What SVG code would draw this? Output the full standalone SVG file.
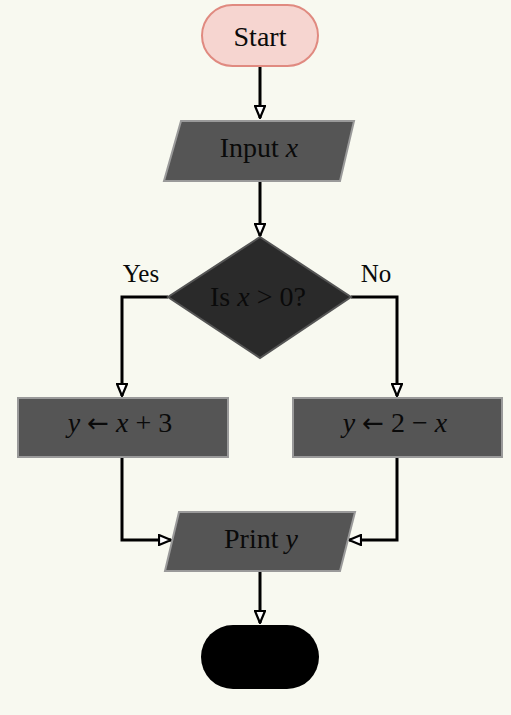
<svg xmlns="http://www.w3.org/2000/svg" width="511" height="715" viewBox="0 0 511 715">
<defs>
<marker id="arr" viewBox="0 0 14 12" refX="13" refY="6" markerWidth="14" markerHeight="12" markerUnits="userSpaceOnUse" orient="auto">
<path d="M1,1 L13,6 L1,11 Z" fill="#ffffff" stroke="#000000" stroke-width="2.2" stroke-linejoin="miter"/>
</marker>
</defs>
<style>
.t{font-family:"Liberation Serif","Times New Roman",serif;font-size:28px;text-anchor:middle;fill:#0a0a0a}
.lbl{font-family:"Liberation Serif","Times New Roman",serif;font-size:25px;text-anchor:middle;fill:#0a0a0a}
.i{font-style:italic}
.ar{font-family:"DejaVu Sans",sans-serif;font-size:26px}
.proc{fill:#555555;stroke:#9a9a9a;stroke-width:2}
.c{fill:none;stroke:#000000;stroke-width:3;marker-end:url(#arr)}
</style>
<rect width="511" height="715" fill="#f8f9f0"/>
<g id="connectors">
<path class="c" d="M260,66 L260,118"/>
<path class="c" d="M260,181 L260,236"/>
<path class="c" d="M168,297 L122,297 L122,396"/>
<path class="c" d="M351,297 L397,297 L397,396"/>
<path class="c" d="M122,457 L122,540 L171,540"/>
<path class="c" d="M397,457 L397,540 L349,540"/>
<path class="c" d="M260,571 L260,623"/>
</g>
<g id="start">
<rect x="202" y="5" width="116" height="61" rx="30.5" fill="#f6d5d0" stroke="#e08a80" stroke-width="2"/>
<text class="t" x="260" y="46">Start</text>
</g>
<g id="input">
<polygon class="proc" points="181,121 354,121 340,181 164,181"/>
<text class="t" x="259" y="157">Input <tspan class="i">x</tspan></text>
</g>
<g id="decision">
<polygon points="260,237 351,297 260,358 168,297" fill="#2a2a2a" stroke="#555555" stroke-width="2"/>
<text class="t" x="258" y="306">Is <tspan class="i">x</tspan> &gt; 0?</text>
</g>
<g id="label-yes"><text class="lbl" x="141" y="282">Yes</text></g>
<g id="label-no"><text class="lbl" x="376" y="282">No</text></g>
<g id="yes-box">
<rect class="proc" x="18" y="398" width="210" height="59"/>
<text class="t" x="120" y="432"><tspan class="i">y</tspan> <tspan class="ar">←</tspan> <tspan class="i">x</tspan> + 3</text>
</g>
<g id="no-box">
<rect class="proc" x="293" y="398" width="209" height="59"/>
<text class="t" x="395" y="432"><tspan class="i">y</tspan> <tspan class="ar">←</tspan> 2 − <tspan class="i">x</tspan></text>
</g>
<g id="print">
<polygon class="proc" points="179,512 355,512 340,571 165,571"/>
<text class="t" x="261" y="548">Print <tspan class="i">y</tspan></text>
</g>
<g id="end">
<rect x="201" y="625" width="118" height="64" rx="32" fill="#000000"/>
</g>
</svg>
